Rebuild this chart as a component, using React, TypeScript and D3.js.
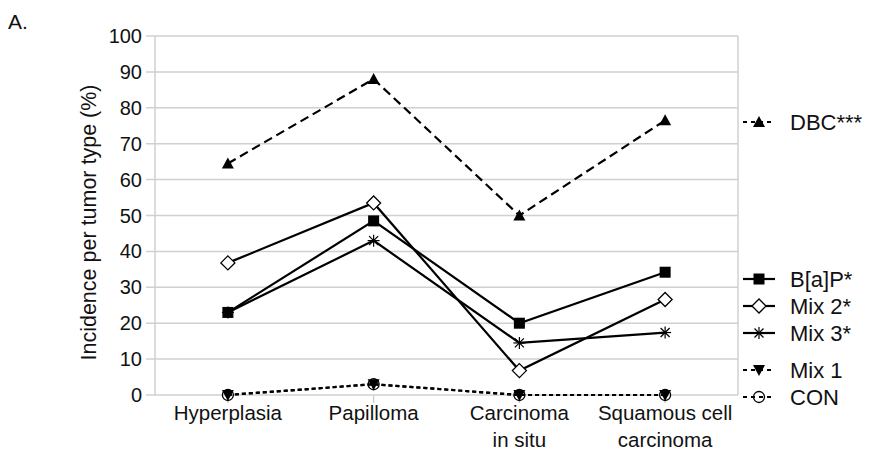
import React from "react";
import * as d3 from "d3";

const categories = ["Hyperplasia", "Papilloma", "Carcinoma\nin situ", "Squamous cell\ncarcinoma"];
const yTicks = [0, 10, 20, 30, 40, 50, 60, 70, 80, 90, 100];

const dbc = [64.5, 88, 50, 76.5];
const bap = [23, 48.5, 20, 34.2];
const mix2 = [36.8, 53.5, 6.8, 26.6];
const mix3 = [23, 43, 14.5, 17.4];
const mix1 = [0, 3, 0, 0];
const con = [0, 3, 0, 0];

type Series = { name: string; values: number[]; dash: string; marker: string; legendY: number };

const series: Series[] = [
  { name: "DBC***", values: dbc, dash: "9,5", marker: "triUp", legendY: 122 },
  { name: "B[a]P*", values: bap, dash: "", marker: "square", legendY: 279 },
  { name: "Mix 2*", values: mix2, dash: "", marker: "diamond", legendY: 306 },
  { name: "Mix 3*", values: mix3, dash: "", marker: "star", legendY: 333 },
  { name: "Mix 1", values: mix1, dash: "4,3", marker: "triDown", legendY: 370 },
  { name: "CON", values: con, dash: "4,3", marker: "circle", legendY: 397 },
];

const W = 870;
const H = 456;
const left = 155;
const right = 738;
const top = 36;
const bottom = 395;

const x = d3.scaleBand<string>().domain(categories).range([left, right]);
const y = d3.scaleLinear().domain([0, 100]).range([bottom, top]);
const cx = (c: string) => (x(c) as number) + x.bandwidth() / 2;

function Marker({ kind, px, py }: { kind: string; px: number; py: number }) {
  switch (kind) {
    case "triUp":
      return <path d={`M${px},${py - 6}L${px + 6},${py + 5}L${px - 6},${py + 5}Z`} fill="#000" />;
    case "triDown":
      return <path d={`M${px - 6},${py - 5}L${px + 6},${py - 5}L${px},${py + 6}Z`} fill="#000" />;
    case "square":
      return <rect x={px - 5.5} y={py - 5.5} width={11} height={11} fill="#000" />;
    case "diamond":
      return (
        <path
          d={`M${px},${py - 7}L${px + 7},${py}L${px},${py + 7}L${px - 7},${py}Z`}
          fill="#fff"
          stroke="#000"
          strokeWidth={1.3}
        />
      );
    case "star":
      return (
        <g stroke="#000" strokeWidth={1.2}>
          <line x1={px} y1={py - 6} x2={px} y2={py + 6} />
          <line x1={px - 6} y1={py} x2={px + 6} y2={py} />
          <line x1={px - 4.5} y1={py - 4.5} x2={px + 4.5} y2={py + 4.5} />
          <line x1={px - 4.5} y1={py + 4.5} x2={px + 4.5} y2={py - 4.5} />
        </g>
      );
    case "circle":
      return <circle cx={px} cy={py} r={5.5} fill="none" stroke="#000" strokeWidth={1.3} />;
    default:
      return null;
  }
}

export default function App() {
  const line = d3
    .line<number>()
    .x((_, i) => cx(categories[i]))
    .y((d) => y(d));
  const font = "Liberation Sans, Arial, sans-serif";

  return (
    <svg width={W} height={H} style={{ position: "absolute", left: 0, top: 0, background: "#fff" }} fontFamily={font}>
      <rect width={W} height={H} fill="#fff" />
      <text x={8} y={29} fontSize={21} fill="#111">A.</text>

      {/* grid */}
      {yTicks.map((t) => (
        <g key={t}>
          <line x1={146} x2={right} y1={y(t)} y2={y(t)} stroke="#d0d0d0" strokeWidth={1.5} />
          <text x={142} y={y(t)} dy="0.35em" textAnchor="end" fontSize={20} fill="#111">
            {t}
          </text>
        </g>
      ))}
      <line x1={left} x2={left} y1={top} y2={bottom} stroke="#d0d0d0" strokeWidth={1.5} />
      <line x1={right} x2={right} y1={top} y2={bottom} stroke="#d0d0d0" strokeWidth={1.5} />
      {categories.map((c) => (
        <line key={c} x1={cx(c)} x2={cx(c)} y1={bottom} y2={bottom + 8} stroke="#d0d0d0" strokeWidth={1.5} />
      ))}

      {/* x labels */}
      {categories.map((c) => (
        <text key={c} x={cx(c)} y={420} textAnchor="middle" fontSize={20.5} fill="#111">
          {c.split("\n").map((s, i) => (
            <tspan key={i} x={cx(c)} dy={i === 0 ? 0 : 27}>
              {s}
            </tspan>
          ))}
        </text>
      ))}

      <text
        transform={`translate(96,${(top + bottom) / 2 + 7}) rotate(-90)`}
        textAnchor="middle"
        fontSize={21.5}
        fill="#111"
      >
        Incidence per tumor type (%)
      </text>

      {/* series */}
      {series.map((s) => (
        <g key={s.name}>
          <path d={line(s.values) || ""} fill="none" stroke="#000" strokeWidth={2.2} strokeDasharray={s.dash || undefined} />
          {s.values.map((v, i) => (
            <Marker key={i} kind={s.marker} px={cx(categories[i])} py={y(v)} />
          ))}
        </g>
      ))}

      {/* legend */}
      {series.map((s) => (
        <g key={s.name}>
          <line x1={743} x2={775} y1={s.legendY} y2={s.legendY} stroke="#000" strokeWidth={2.2} strokeDasharray={s.dash ? "4,4" : undefined} />
          <Marker kind={s.marker} px={759} py={s.legendY} />
          <text x={790} y={s.legendY} dy="0.36em" fontSize={22} fill="#111">
            {s.name}
          </text>
        </g>
      ))}
    </svg>
  );
}
